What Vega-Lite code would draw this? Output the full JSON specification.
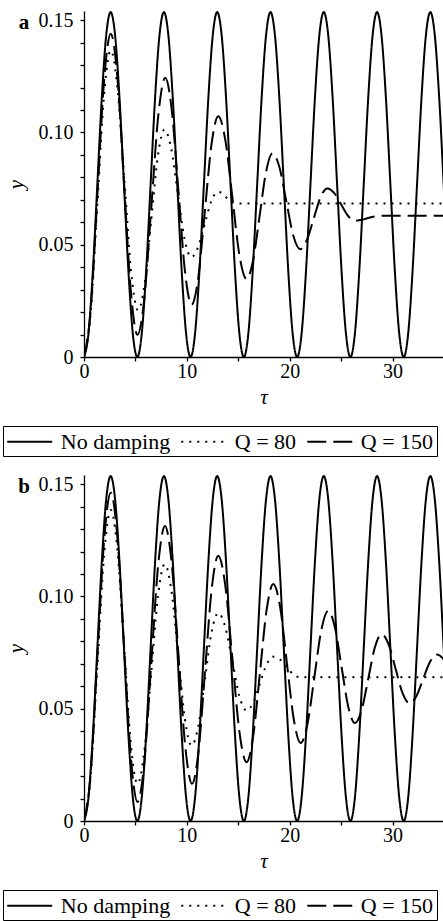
{
"$schema": "https://vega.github.io/schema/vega-lite/v6.json",
"padding": {"left": 2, "top": 10, "right": 0, "bottom": 0},
"background": "white",
"spacing": 17,
"config": {
  "view": {"stroke": null},
  "font": "Liberation Serif",
  "axis": {"domainColor": "black", "domainWidth": 1.3, "tickColor": "black", "tickWidth": 1.3, "tickSize": 4, "labelFont": "Liberation Serif", "labelFontSize": 20, "labelColor": "black", "titleFont": "Liberation Serif", "titleFontSize": 21, "titleFontStyle": "italic", "titleFontWeight": "normal", "titleColor": "black", "grid": false, "labelFlush": false, "labelOverlap": false},
  "legend": {"direction": "horizontal", "strokeColor": "black", "padding": 3, "symbolType": "M-2,0H2", "symbolSize": 506, "symbolOffset": 11.25, "symbolStrokeWidth": 2, "symbolStrokeColor": "black", "symbolFillColor": "transparent", "labelFont": "Liberation Serif", "labelFontSize": 22, "labelColor": "black", "labelOffset": 18.5, "columnPadding": 6},
  "title": {"font": "Liberation Serif", "fontSize": 21, "fontWeight": "bold", "color": "black"}
},
"resolve": {"scale": {"x": "independent", "y": "independent", "strokeDash": "independent"}, "legend": {"strokeDash": "independent"}},
"datasets": {
  "undamped": [
    {"t":0,"y":0},{"t":0.432,"y":0.0103},{"t":0.863,"y":0.0384},{"t":1.295,"y":0.0768},{"t":1.727,"y":0.1152},{"t":2.158,"y":0.1433},{"t":2.59,"y":0.1536},{"t":3.022,"y":0.1433},{"t":3.453,"y":0.1152},{"t":3.885,"y":0.0768},{"t":4.317,"y":0.0384},{"t":4.748,"y":0.0103},
    {"t":5.18,"y":0},{"t":5.612,"y":0.0103},{"t":6.043,"y":0.0384},{"t":6.475,"y":0.0768},{"t":6.907,"y":0.1152},{"t":7.338,"y":0.1433},{"t":7.77,"y":0.1536},{"t":8.202,"y":0.1433},{"t":8.633,"y":0.1152},{"t":9.065,"y":0.0768},{"t":9.497,"y":0.0384},{"t":9.928,"y":0.0103},
    {"t":10.36,"y":0},{"t":10.792,"y":0.0103},{"t":11.223,"y":0.0384},{"t":11.655,"y":0.0768},{"t":12.087,"y":0.1152},{"t":12.518,"y":0.1433},{"t":12.95,"y":0.1536},{"t":13.382,"y":0.1433},{"t":13.813,"y":0.1152},{"t":14.245,"y":0.0768},{"t":14.677,"y":0.0384},{"t":15.108,"y":0.0103},
    {"t":15.54,"y":0},{"t":15.972,"y":0.0103},{"t":16.403,"y":0.0384},{"t":16.835,"y":0.0768},{"t":17.267,"y":0.1152},{"t":17.698,"y":0.1433},{"t":18.13,"y":0.1536},{"t":18.562,"y":0.1433},{"t":18.993,"y":0.1152},{"t":19.425,"y":0.0768},{"t":19.857,"y":0.0384},{"t":20.288,"y":0.0103},
    {"t":20.72,"y":0},{"t":21.152,"y":0.0103},{"t":21.583,"y":0.0384},{"t":22.015,"y":0.0768},{"t":22.447,"y":0.1152},{"t":22.878,"y":0.1433},{"t":23.31,"y":0.1536},{"t":23.742,"y":0.1433},{"t":24.173,"y":0.1152},{"t":24.605,"y":0.0768},{"t":25.037,"y":0.0384},{"t":25.468,"y":0.0103},
    {"t":25.9,"y":0},{"t":26.332,"y":0.0103},{"t":26.763,"y":0.0384},{"t":27.195,"y":0.0768},{"t":27.627,"y":0.1152},{"t":28.058,"y":0.1433},{"t":28.49,"y":0.1536},{"t":28.922,"y":0.1433},{"t":29.353,"y":0.1152},{"t":29.785,"y":0.0768},{"t":30.217,"y":0.0384},{"t":30.648,"y":0.0103},
    {"t":31.08,"y":0},{"t":31.512,"y":0.0103},{"t":31.943,"y":0.0384},{"t":32.375,"y":0.0768},{"t":32.807,"y":0.1152},{"t":33.238,"y":0.1433},{"t":33.67,"y":0.1536},{"t":34.102,"y":0.1433},{"t":34.533,"y":0.1152},{"t":34.965,"y":0.0768},{"t":35.397,"y":0.0384}
  ],
  "damped": [
    {"p":"a","s":"Q = 80","t":0,"y":0},{"p":"a","s":"Q = 80","t":0.65,"y":0.0199},{"p":"a","s":"Q = 80","t":1.3,"y":0.0683},{"p":"a","s":"Q = 80","t":1.95,"y":0.1166},{"p":"a","s":"Q = 80","t":2.6,"y":0.1365},
    {"p":"a","s":"Q = 80","t":3.26,"y":0.1196},{"p":"a","s":"Q = 80","t":3.93,"y":0.0787},{"p":"a","s":"Q = 80","t":4.59,"y":0.0377},{"p":"a","s":"Q = 80","t":5.25,"y":0.0208},
    {"p":"a","s":"Q = 80","t":5.89,"y":0.0326},{"p":"a","s":"Q = 80","t":6.54,"y":0.0611},{"p":"a","s":"Q = 80","t":7.18,"y":0.0895},{"p":"a","s":"Q = 80","t":7.82,"y":0.1013},
    {"p":"a","s":"Q = 80","t":8.47,"y":0.093},{"p":"a","s":"Q = 80","t":9.12,"y":0.0728},{"p":"a","s":"Q = 80","t":9.77,"y":0.0527},{"p":"a","s":"Q = 80","t":10.42,"y":0.0444},
    {"p":"a","s":"Q = 80","t":11.07,"y":0.0487},{"p":"a","s":"Q = 80","t":11.72,"y":0.059},{"p":"a","s":"Q = 80","t":12.37,"y":0.0693},{"p":"a","s":"Q = 80","t":13.02,"y":0.0736},
    {"p":"a","s":"Q = 80","t":13.5,"y":0.0727},{"p":"a","s":"Q = 80","t":14.0,"y":0.0703},{"p":"a","s":"Q = 80","t":14.5,"y":0.0687},{"p":"a","s":"Q = 80","t":15.0,"y":0.0684},{"p":"a","s":"Q = 80","t":35.4,"y":0.0684},

    {"p":"a","s":"Q = 150","t":0,"y":0},{"p":"a","s":"Q = 150","t":0.65,"y":0.021},{"p":"a","s":"Q = 150","t":1.3,"y":0.072},{"p":"a","s":"Q = 150","t":1.95,"y":0.123},{"p":"a","s":"Q = 150","t":2.6,"y":0.144},
    {"p":"a","s":"Q = 150","t":3.25,"y":0.1244},{"p":"a","s":"Q = 150","t":3.9,"y":0.0769},{"p":"a","s":"Q = 150","t":4.55,"y":0.0295},{"p":"a","s":"Q = 150","t":5.2,"y":0.0099},
    {"p":"a","s":"Q = 150","t":5.875,"y":0.0266},{"p":"a","s":"Q = 150","t":6.55,"y":0.0672},{"p":"a","s":"Q = 150","t":7.225,"y":0.1077},{"p":"a","s":"Q = 150","t":7.9,"y":0.1244},
    {"p":"a","s":"Q = 150","t":8.54,"y":0.1096},{"p":"a","s":"Q = 150","t":9.18,"y":0.0738},{"p":"a","s":"Q = 150","t":9.82,"y":0.038},{"p":"a","s":"Q = 150","t":10.46,"y":0.0232},
    {"p":"a","s":"Q = 150","t":11.11,"y":0.0355},{"p":"a","s":"Q = 150","t":11.755,"y":0.0652},{"p":"a","s":"Q = 150","t":12.4,"y":0.0949},{"p":"a","s":"Q = 150","t":13.05,"y":0.1072},
    {"p":"a","s":"Q = 150","t":13.74,"y":0.0966},{"p":"a","s":"Q = 150","t":14.43,"y":0.0709},{"p":"a","s":"Q = 150","t":15.11,"y":0.0453},{"p":"a","s":"Q = 150","t":15.8,"y":0.0347},
    {"p":"a","s":"Q = 150","t":16.43,"y":0.0429},{"p":"a","s":"Q = 150","t":17.07,"y":0.0627},{"p":"a","s":"Q = 150","t":17.7,"y":0.0825},{"p":"a","s":"Q = 150","t":18.33,"y":0.0907},
    {"p":"a","s":"Q = 150","t":19.0,"y":0.0845},{"p":"a","s":"Q = 150","t":19.67,"y":0.0693},{"p":"a","s":"Q = 150","t":20.33,"y":0.0543},{"p":"a","s":"Q = 150","t":21.0,"y":0.048},
    {"p":"a","s":"Q = 150","t":21.66,"y":0.052},{"p":"a","s":"Q = 150","t":22.33,"y":0.0616},{"p":"a","s":"Q = 150","t":22.99,"y":0.0711},{"p":"a","s":"Q = 150","t":23.65,"y":0.0751},
    {"p":"a","s":"Q = 150","t":24.33,"y":0.073},{"p":"a","s":"Q = 150","t":25.0,"y":0.0679},{"p":"a","s":"Q = 150","t":25.68,"y":0.0628},{"p":"a","s":"Q = 150","t":26.35,"y":0.0607},
    {"p":"a","s":"Q = 150","t":27.2,"y":0.0613},{"p":"a","s":"Q = 150","t":28.1,"y":0.0625},{"p":"a","s":"Q = 150","t":29.0,"y":0.0629},{"p":"a","s":"Q = 150","t":35.4,"y":0.0629},

    {"p":"b","s":"Q = 80","t":0,"y":0},{"p":"b","s":"Q = 80","t":0.65,"y":0.0202},{"p":"b","s":"Q = 80","t":1.3,"y":0.0693},{"p":"b","s":"Q = 80","t":1.95,"y":0.1182},{"p":"b","s":"Q = 80","t":2.6,"y":0.1385},
    {"p":"b","s":"Q = 80","t":3.25,"y":0.1207},{"p":"b","s":"Q = 80","t":3.9,"y":0.0775},{"p":"b","s":"Q = 80","t":4.55,"y":0.0344},{"p":"b","s":"Q = 80","t":5.2,"y":0.0166},
    {"p":"b","s":"Q = 80","t":5.86,"y":0.0309},{"p":"b","s":"Q = 80","t":6.53,"y":0.0655},{"p":"b","s":"Q = 80","t":7.19,"y":0.1001},{"p":"b","s":"Q = 80","t":7.85,"y":0.1144},
    {"p":"b","s":"Q = 80","t":8.5,"y":0.1026},{"p":"b","s":"Q = 80","t":9.16,"y":0.074},{"p":"b","s":"Q = 80","t":9.81,"y":0.0454},{"p":"b","s":"Q = 80","t":10.46,"y":0.0336},
    {"p":"b","s":"Q = 80","t":11.11,"y":0.0422},{"p":"b","s":"Q = 80","t":11.755,"y":0.0631},{"p":"b","s":"Q = 80","t":12.4,"y":0.084},{"p":"b","s":"Q = 80","t":13.05,"y":0.0926},
    {"p":"b","s":"Q = 80","t":13.74,"y":0.0863},{"p":"b","s":"Q = 80","t":14.43,"y":0.0709},{"p":"b","s":"Q = 80","t":15.11,"y":0.0555},{"p":"b","s":"Q = 80","t":15.8,"y":0.0492},
    {"p":"b","s":"Q = 80","t":16.45,"y":0.0527},{"p":"b","s":"Q = 80","t":17.1,"y":0.0612},{"p":"b","s":"Q = 80","t":17.75,"y":0.0697},{"p":"b","s":"Q = 80","t":18.4,"y":0.0732},
    {"p":"b","s":"Q = 80","t":19.05,"y":0.0719},{"p":"b","s":"Q = 80","t":19.7,"y":0.0686},{"p":"b","s":"Q = 80","t":20.35,"y":0.0653},{"p":"b","s":"Q = 80","t":21.0,"y":0.064},{"p":"b","s":"Q = 80","t":35.4,"y":0.064},

    {"p":"b","s":"Q = 150","t":0,"y":0},{"p":"b","s":"Q = 150","t":0.65,"y":0.0213},{"p":"b","s":"Q = 150","t":1.3,"y":0.0731},{"p":"b","s":"Q = 150","t":1.95,"y":0.1248},{"p":"b","s":"Q = 150","t":2.6,"y":0.1462},
    {"p":"b","s":"Q = 150","t":3.25,"y":0.1261},{"p":"b","s":"Q = 150","t":3.9,"y":0.0773},{"p":"b","s":"Q = 150","t":4.55,"y":0.0287},{"p":"b","s":"Q = 150","t":5.2,"y":0.0085},
    {"p":"b","s":"Q = 150","t":5.87,"y":0.0264},{"p":"b","s":"Q = 150","t":6.535,"y":0.07},{"p":"b","s":"Q = 150","t":7.2,"y":0.1134},{"p":"b","s":"Q = 150","t":7.87,"y":0.1314},
    {"p":"b","s":"Q = 150","t":8.53,"y":0.1146},{"p":"b","s":"Q = 150","t":9.185,"y":0.074},{"p":"b","s":"Q = 150","t":9.84,"y":0.0334},{"p":"b","s":"Q = 150","t":10.5,"y":0.0166},
    {"p":"b","s":"Q = 150","t":11.14,"y":0.0314},{"p":"b","s":"Q = 150","t":11.775,"y":0.0674},{"p":"b","s":"Q = 150","t":12.41,"y":0.1032},{"p":"b","s":"Q = 150","t":13.05,"y":0.1181},
    {"p":"b","s":"Q = 150","t":13.74,"y":0.1047},{"p":"b","s":"Q = 150","t":14.43,"y":0.0721},{"p":"b","s":"Q = 150","t":15.11,"y":0.0397},{"p":"b","s":"Q = 150","t":15.8,"y":0.0262},
    {"p":"b","s":"Q = 150","t":16.45,"y":0.0378},{"p":"b","s":"Q = 150","t":17.1,"y":0.0659},{"p":"b","s":"Q = 150","t":17.75,"y":0.0939},{"p":"b","s":"Q = 150","t":18.4,"y":0.1055},
    {"p":"b","s":"Q = 150","t":19.07,"y":0.0952},{"p":"b","s":"Q = 150","t":19.73,"y":0.0701},{"p":"b","s":"Q = 150","t":20.4,"y":0.0451},{"p":"b","s":"Q = 150","t":21.06,"y":0.0347},
    {"p":"b","s":"Q = 150","t":21.73,"y":0.0433},{"p":"b","s":"Q = 150","t":22.4,"y":0.0642},{"p":"b","s":"Q = 150","t":23.07,"y":0.085},{"p":"b","s":"Q = 150","t":23.74,"y":0.0936},
    {"p":"b","s":"Q = 150","t":24.39,"y":0.0863},{"p":"b","s":"Q = 150","t":25.04,"y":0.0686},{"p":"b","s":"Q = 150","t":25.69,"y":0.0509},{"p":"b","s":"Q = 150","t":26.34,"y":0.0436},
    {"p":"b","s":"Q = 150","t":26.99,"y":0.0494},{"p":"b","s":"Q = 150","t":27.635,"y":0.0634},{"p":"b","s":"Q = 150","t":28.28,"y":0.0774},{"p":"b","s":"Q = 150","t":28.93,"y":0.0832},
    {"p":"b","s":"Q = 150","t":29.61,"y":0.0787},{"p":"b","s":"Q = 150","t":30.29,"y":0.0678},{"p":"b","s":"Q = 150","t":30.97,"y":0.0569},{"p":"b","s":"Q = 150","t":31.65,"y":0.0524},
    {"p":"b","s":"Q = 150","t":32.31,"y":0.0556},{"p":"b","s":"Q = 150","t":32.975,"y":0.0633},{"p":"b","s":"Q = 150","t":33.64,"y":0.0709},{"p":"b","s":"Q = 150","t":34.3,"y":0.0741},
    {"p":"b","s":"Q = 150","t":34.96,"y":0.072},{"p":"b","s":"Q = 150","t":35.625,"y":0.067}
  ]
},
"vconcat": [
  {
    "title": {"text": "a", "orient": "top", "anchor": "start", "frame": "group", "align": "center", "baseline": "middle", "dx": -60, "dy": 24, "offset": -10},
    "width": 359, "height": 346,
    "encoding": {
      "x": {"field": "t", "type": "quantitative", "scale": {"domain": [0, 34.9], "nice": false, "zero": false},
            "axis": {"values": [0,5,10,15,20,25,30], "labelExpr": "datum.value % 10 == 0 ? datum.label : ''", "labelPadding": 0, "titlePadding": 5}, "title": "τ"},
      "y": {"field": "y", "type": "quantitative", "scale": {"domain": [0, 0.1541], "nice": false},
            "axis": {"values": [0,0.01,0.02,0.03,0.04,0.05,0.06,0.07,0.08,0.09,0.1,0.11,0.12,0.13,0.14,0.15], "labelExpr": "round(datum.value*100) % 5 == 0 ? (datum.value == 0 ? '0' : format(datum.value, '.2f')) : ''", "labelPadding": 7, "titlePadding": 12}, "title": "y"}
    },
    "layer": [
      {"data": {"name": "undamped"},
       "mark": {"type": "line", "clip": true, "interpolate": "monotone", "strokeWidth": 2, "color": "black"},
       "encoding": {"strokeDash": {"datum": "No damping", "type": "nominal",
          "scale": {"domain": ["No damping", "Q = 80", "Q = 150"], "range": [[1,0],[2,6],[19,7]]},
          "legend": {"orient": "none", "legendX": -81, "legendY": 415, "title": null}}}},
      {"data": {"name": "damped"}, "transform": [{"filter": "datum.p == 'a'"}],
       "mark": {"type": "line", "clip": true, "interpolate": "monotone", "strokeWidth": 2, "color": "black"},
       "encoding": {"strokeDash": {"field": "s", "type": "nominal",
          "scale": {"domain": ["No damping", "Q = 80", "Q = 150"], "range": [[1,0],[2,6],[19,7]]},
          "legend": {"orient": "none", "legendX": -81, "legendY": 415, "title": null}}}}
    ]
  },
  {
    "title": {"text": "b", "orient": "top", "anchor": "start", "frame": "group", "align": "center", "baseline": "middle", "dx": -60, "dy": 24, "offset": -10},
    "width": 359, "height": 346,
    "encoding": {
      "x": {"field": "t", "type": "quantitative", "scale": {"domain": [0, 34.9], "nice": false, "zero": false},
            "axis": {"values": [0,5,10,15,20,25,30], "labelExpr": "datum.value % 10 == 0 ? datum.label : ''", "labelPadding": 0, "titlePadding": 5}, "title": "τ"},
      "y": {"field": "y", "type": "quantitative", "scale": {"domain": [0, 0.1541], "nice": false},
            "axis": {"values": [0,0.01,0.02,0.03,0.04,0.05,0.06,0.07,0.08,0.09,0.1,0.11,0.12,0.13,0.14,0.15], "labelExpr": "round(datum.value*100) % 5 == 0 ? (datum.value == 0 ? '0' : format(datum.value, '.2f')) : ''", "labelPadding": 7, "titlePadding": 12}, "title": "y"}
    },
    "layer": [
      {"data": {"name": "undamped"},
       "mark": {"type": "line", "clip": true, "interpolate": "monotone", "strokeWidth": 2, "color": "black"},
       "encoding": {"strokeDash": {"datum": "No damping", "type": "nominal",
          "scale": {"domain": ["No damping", "Q = 80", "Q = 150"], "range": [[1,0],[2,6],[19,7]]},
          "legend": {"orient": "none", "legendX": -81, "legendY": 415, "title": null}}}},
      {"data": {"name": "damped"}, "transform": [{"filter": "datum.p == 'b'"}],
       "mark": {"type": "line", "clip": true, "interpolate": "monotone", "strokeWidth": 2, "color": "black"},
       "encoding": {"strokeDash": {"field": "s", "type": "nominal",
          "scale": {"domain": ["No damping", "Q = 80", "Q = 150"], "range": [[1,0],[2,6],[19,7]]},
          "legend": {"orient": "none", "legendX": -81, "legendY": 415, "title": null}}}}
    ]
  }
]
}
